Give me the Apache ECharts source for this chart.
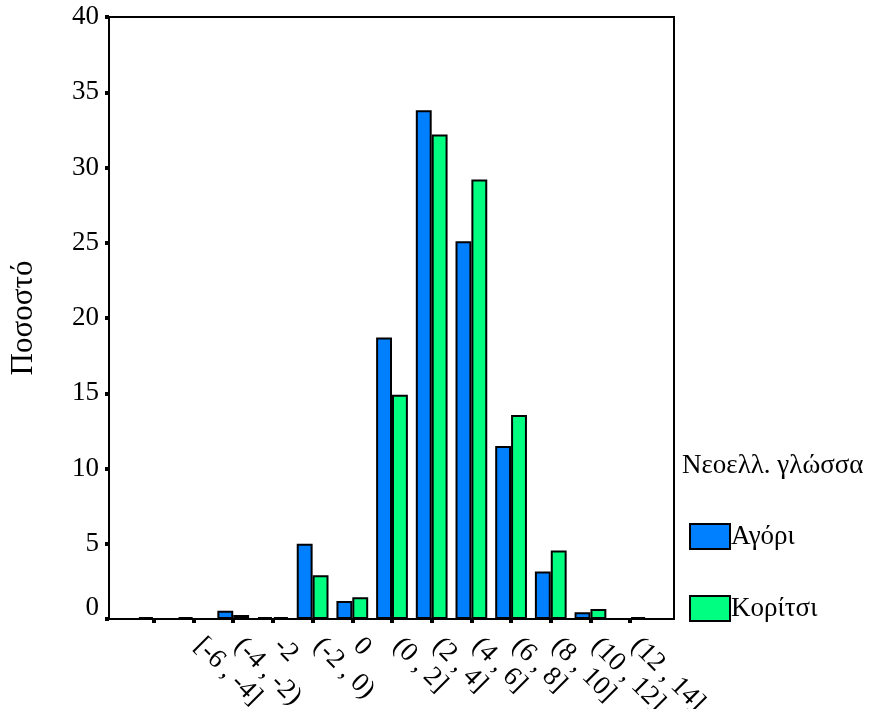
<!DOCTYPE html>
<html>
<head>
<meta charset="utf-8">
<script src="https://cdn.jsdelivr.net/npm/echarts@6/dist/echarts.min.js"></script>
<style>
html,body{margin:0;padding:0;background:#fff;}
#c{width:869px;height:709px;}
</style>
</head>
<body>
<div id="c"></div>
<script>
const categories = ['', '[-6 , -4]', '(-4 , -2)', '-2', '(-2 , 0)', '0', '(0 , 2]', '(2 , 4]', '(4 , 6]', '(6 , 8]', '(8 , 10]', '(10 , 12]', '(12 , 14]'];
const agori   = [0.12, 0.12, 0.55, 0.12, 5.0, 1.2, 18.7, 33.8, 25.1, 11.5, 3.15, 0.45, null];
const koritsi = [null, null, 0.27, 0.12, 2.9, 1.45, 14.9, 32.2, 29.2, 13.55, 4.55, 0.66, 0.12];
const seriesNames = ['Αγόρι', 'Κορίτσι'];
const yTicks = [0, 40, 5];

const FONT = '"Liberation Serif", "Times New Roman", serif';
const FS = 27;
const chart = echarts.init(document.getElementById('c'), null, {renderer: 'canvas'});
chart.setOption({
  backgroundColor: '#fff',
  animation: false,
  textStyle: {fontFamily: FONT, color: '#000'},
  title: {
    text: 'Νεοελλ. γλώσσα',
    left: 682, top: 452, padding: 0,
    textStyle: {fontFamily: FONT, fontSize: FS, fontWeight: 'normal', color: '#000'}
  },
  legend: {
    orient: 'vertical',
    left: 689, top: 523, padding: 0,
    itemWidth: 40, itemHeight: 25, itemGap: 45,
    icon: 'rect',
    textStyle: {fontFamily: FONT, fontSize: FS, color: '#000', padding: [0, 0, 0, -4]},
    data: seriesNames
  },
  grid: [
    {left: 109, right: 195, top: 17, bottom: 90, show: true, borderColor: '#000', borderWidth: 2, backgroundColor: 'transparent', outerBoundsMode: 'none', containLabel: false},
    {left: 134, right: 219, top: 17, bottom: 90, outerBoundsMode: 'none', containLabel: false}
  ],
  xAxis: [
    {gridIndex: 0, type: 'value', min: 0, max: 1, show: false},
    {
      gridIndex: 1, type: 'category', data: categories,
      axisLine: {show: false},
      axisTick: {show: true, alignWithLabel: true, length: 4, lineStyle: {color: '#000', width: 4}},
      axisLabel: {rotate: -45, margin: 18, fontFamily: FONT, fontSize: FS, color: '#000', interval: 0, padding: [0, 0, 0, 7]}
    }
  ],
  yAxis: [
    {
      gridIndex: 0, type: 'value', min: yTicks[0], max: yTicks[1], interval: yTicks[2],
      name: 'Ποσοστό', nameLocation: 'middle', nameGap: 70, nameRotate: 90,
      nameTextStyle: {fontFamily: FONT, fontSize: 31, color: '#000'},
      axisLine: {show: true, lineStyle: {color: '#000', width: 2}},
      axisTick: {show: true, length: 4, lineStyle: {color: '#000', width: 4}},
      splitLine: {show: false},
      axisLabel: {
        margin: 10, fontFamily: FONT, fontSize: FS, color: '#000',
        formatter: function (v) { return v === 0 ? '{z|0}' : String(v); },
        rich: {z: {fontFamily: FONT, fontSize: FS, color: '#000', padding: [0, 0, 22, 0]}}
      }
    },
    {gridIndex: 1, type: 'value', min: yTicks[0], max: yTicks[1], show: false, splitLine: {show: false}}
  ],
  series: [
    {
      name: seriesNames[0], type: 'bar', xAxisIndex: 1, yAxisIndex: 1, data: agori,
      barGap: '0%', barCategoryGap: '20%',
      itemStyle: {color: '#0080ff', borderColor: '#000', borderWidth: 2}
    },
    {
      name: seriesNames[1], type: 'bar', xAxisIndex: 1, yAxisIndex: 1, data: koritsi,
      barGap: '0%', barCategoryGap: '20%',
      itemStyle: {color: '#00ff80', borderColor: '#000', borderWidth: 2}
    }
  ]
});
</script>
</body>
</html>
